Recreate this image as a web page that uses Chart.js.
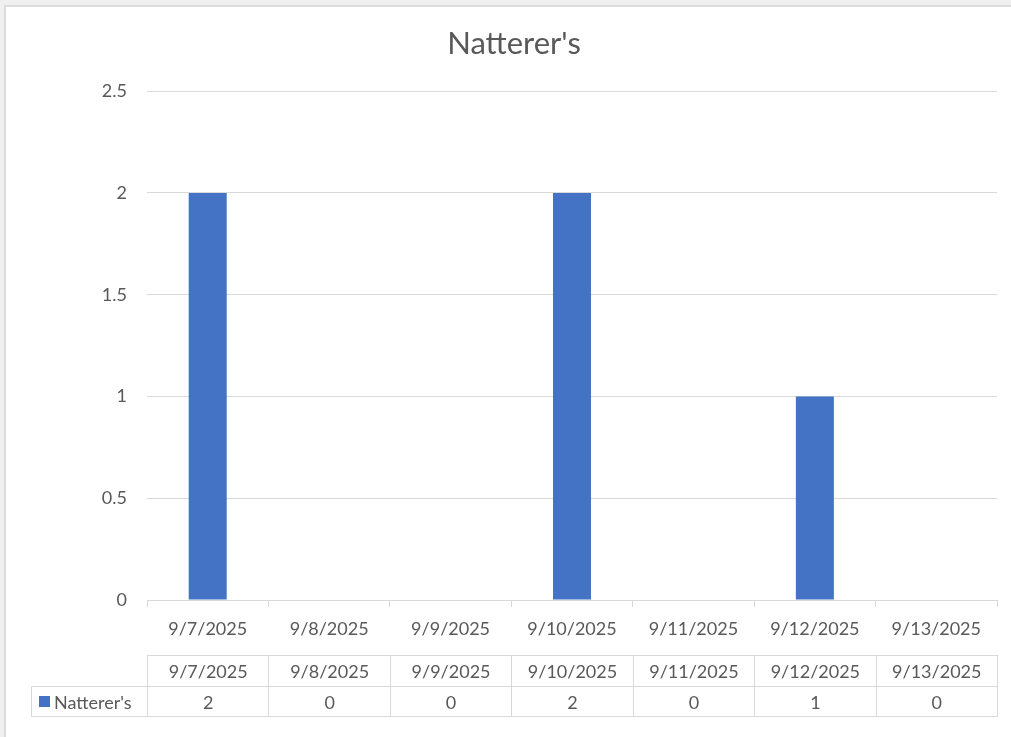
<!DOCTYPE html>
<html>
<head>
<meta charset="utf-8">
<script src="https://cdn.jsdelivr.net/npm/chart.js@4.4.1/dist/chart.umd.min.js"></script>
<style>
  html, body { margin: 0; padding: 0; background: #f0f0f0; overflow: hidden; }
  #frame {
    position: absolute; left: 4px; top: 5px; width: 1007px; height: 732px; overflow: hidden;
    background: #fff; border-left: 2px solid #dcdcdc; border-top: 2px solid #dcdcdc;
  }
  #chart-wrap { position: absolute; left: 0; top: 0; width: 1016px; height: 730px; }
  #table-layer { position: absolute; left: 0; top: 0; width: 1016px; height: 730px; pointer-events: none; }
  .cell {
    position: absolute; box-sizing: border-box; border: 1px solid #d9d9d9;
    font-family: Lato, sans-serif; font-size: 18px; color: #595959;
    display: flex; align-items: center; justify-content: center; white-space: nowrap;
  }
  .swatch { display: inline-block; width: 11px; height: 11px; background: #4472c4; margin-right: 4px; }
</style>
</head>
<body>
<div id="frame">
  <div id="chart-wrap"><canvas id="batChart"></canvas></div>
  <div id="table-layer"></div>
</div>
<script>
const chartTitle = "Natterer's";
const dates = ['9/7/2025', '9/8/2025', '9/9/2025', '9/10/2025', '9/11/2025', '9/12/2025', '9/13/2025'];
const nattererCounts = [2, 0, 0, 2, 0, 1, 0];
const yTicks = [0, 0.5, 1, 1.5, 2, 2.5];

const barColor = '#4472c4';
const gridColor = '#d9d9d9';
const textColor = '#595959';

// builds the data table under the axis, lined up with the x scale
function buildDataTable(chart) {
  const layer = document.getElementById('table-layer');
  layer.innerHTML = '';
  const x = chart.scales.x;
  const half = (x.getPixelForValue(1) - x.getPixelForValue(0)) / 2;
  const headTop = 648, rowH = 31;

  dates.forEach((d, i) => {
    const left = x.getPixelForValue(i) - half;
    const w = half * 2 + 1;
    const head = document.createElement('div');
    head.className = 'cell';
    head.style.cssText = `left:${left}px;top:${headTop}px;width:${w}px;height:${rowH + 1}px;`;
    head.textContent = d;
    layer.appendChild(head);

    const val = document.createElement('div');
    val.className = 'cell';
    val.style.cssText = `left:${left}px;top:${headTop + rowH}px;width:${w}px;height:${rowH}px;`;
    val.textContent = nattererCounts[i];
    layer.appendChild(val);
  });

  const legendCell = document.createElement('div');
  legendCell.className = 'cell';
  const l0 = x.getPixelForValue(0) - half;
  legendCell.style.cssText = `left:25px;top:${headTop + rowH}px;width:${l0 - 25 + 1}px;height:${rowH}px;justify-content:flex-start;padding-left:7px;`;
  legendCell.innerHTML = '<span class="swatch"></span>';
  legendCell.appendChild(document.createTextNode(chartTitle));
  layer.appendChild(legendCell);
}

const ctx = document.getElementById('batChart').getContext('2d');
const batChart = new Chart(ctx, {
  type: 'bar',
  data: {
    labels: dates,
    datasets: [{
      label: chartTitle,
      data: nattererCounts,
      backgroundColor: barColor,
      barPercentage: 0.313,
      categoryPercentage: 1
    }]
  },
  options: {
    responsive: true,
    maintainAspectRatio: false,
    animation: false,
    layout: { padding: { left: 25, right: 25, top: 0, bottom: 89 } },
    plugins: {
      legend: { display: false },
      tooltip: { enabled: false },
      title: {
        display: true,
        text: chartTitle,
        color: textColor,
        font: { family: 'Lato', size: 31, weight: 'normal' },
        padding: { top: 18, bottom: 29 }
      }
    },
    scales: {
      x: {
        offset: true,
        grid: { display: true, drawOnChartArea: false, offset: true, color: gridColor, tickLength: 7 },
        border: { display: true, color: gridColor, width: 1 },
        ticks: { color: textColor, font: { family: 'Lato', size: 18 }, padding: 11, maxRotation: 0, autoSkip: false },
        afterFit: s => { s.height = 48; }
      },
      y: {
        min: 0,
        max: 2.5,
        afterBuildTicks: s => { s.ticks = yTicks.map(v => ({ value: v })); },
        grid: { color: gridColor, drawTicks: false, lineWidth: 1 },
        border: { display: false },
        ticks: { color: textColor, font: { family: 'Lato', size: 18 }, padding: 20, callback: v => String(v) },
        afterFit: s => { s.width = 116; }
      }
    }
  },
  plugins: [{ id: 'dataTable', afterRender: buildDataTable }]
});
</script>
</body>
</html>
